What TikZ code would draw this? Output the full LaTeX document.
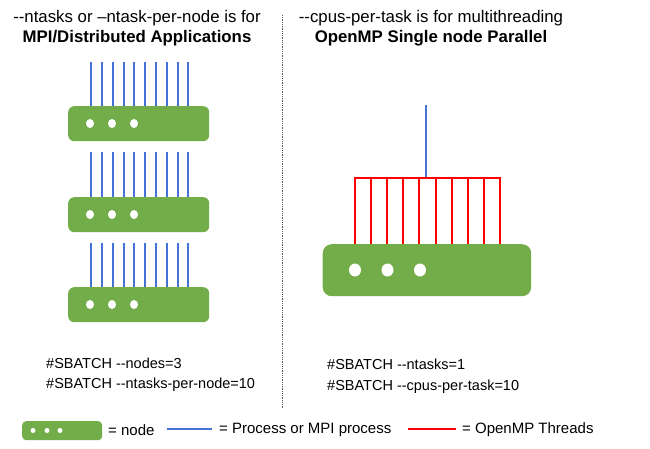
\documentclass[tikz,border=0pt]{standalone}
\usepackage{fontspec}
\setmainfont{Liberation Sans}[Ligatures=NoCommon]
\newcommand{\dd}{-{}-}
\begin{document}
\begin{tikzpicture}[x=1pt,y=-1pt]
\definecolor{ng}{RGB}{114,173,74}
\definecolor{pb}{RGB}{68,114,214}
\tikzset{srv/.style={fill=ng, draw=none, rounded corners=6pt},
  dot/.style={fill=white, draw=none},
  proc/.style={draw=pb, line width=2pt},
  thr/.style={draw=red, line width=2pt},
  pbar/.style={fill=pb, draw=none},
  rbar/.style={fill=red, draw=none},
  txt/.style={font=\fontsize{14.5}{16}\selectfont, anchor=west, inner sep=0pt},
  ttl/.style={font=\fontsize{16.8}{19}\selectfont, inner sep=0pt}}
\useasboundingbox (0,0) rectangle (650,448);
\node[ttl] (t1) at (137,18) {\dd ntasks or –ntask-per-node is for};
\node[ttl,font=\fontsize{16.8}{19}\selectfont\bfseries] (t2) at (137,38) {MPI/Distributed Applications};
\node[ttl] (t3) at (431,18) {\dd cpus-per-task is for multithreading};
\node[ttl,font=\fontsize{16.8}{19}\selectfont\bfseries] (t4) at (431,38) {OpenMP Single node Parallel};
\coordinate (d1) at (282.5,15); \coordinate (d2) at (282.5,408);
\draw[densely dotted, gray!70!black, line width=0.8pt] (d1) -- (d2);
% left servers
\foreach \ltop/\ntop [count=\i] in {62/106, 152/197, 243/287}{
  \foreach \x in {90,101,112,123,133,144,155,166,177,187}{
    \fill[pbar] (\x,\ltop) rectangle (\x+2,\ntop+1);
  }
  \node[srv, minimum width=141pt, minimum height=35pt, anchor=north west] (s\i) at (68,\ntop) {};
  \foreach \x in {90,112,134}{\fill[dot] (\x,\ntop+17.5) ellipse (4pt and 4.5pt);}
}
% right
\fill[pbar] (425,105) rectangle (427,178);
\foreach \x in {354,370,386,402,418,435,451,467,483,499}{
  \fill[rbar] (\x,177) rectangle (\x+2,245);
}
\coordinate (r0) at (354,178); \coordinate (r9) at (501,178);
\draw[thr] (r0) -- (r9);
\node[srv, minimum width=208.5pt, minimum height=52pt, anchor=north west, rounded corners=9pt] (big) at (322.5,244) {};
\foreach \x in {355,387.5,420}{\fill[dot] (\x,270) ellipse (6pt and 6.5pt);}
% texts
\node[txt] (c1) at (46,363) {\#SBATCH \dd nodes=3};
\node[txt] (c2) at (46,385) {\#SBATCH \dd ntasks-per-node=10};
\node[txt] (c3) at (327,364) {\#SBATCH \dd ntasks=1};
\node[txt] (c4) at (327,387) {\#SBATCH \dd cpus-per-task=10};
% legend
\node[srv, minimum width=80pt, minimum height=19pt, anchor=north west, rounded corners=4pt] (lg) at (22,421) {};
\foreach \x in {33,47,60}{\fill[dot] (\x,430.5) circle (2.5pt);}
\node[txt, font=\fontsize{15}{17}\selectfont] (l1) at (108,430) {= node};
\coordinate (lb1) at (167,429); \coordinate (lb2) at (212,429);
\draw[proc] (lb1) -- (lb2);
\node[txt, font=\fontsize{15}{17}\selectfont] (l2) at (219,430) {= Process or MPI process};
\coordinate (lr1) at (408,429); \coordinate (lr2) at (456,429);
\draw[thr] (lr1) -- (lr2);
\node[txt, font=\fontsize{15}{17}\selectfont] (l3) at (462,430) {= OpenMP Threads};
\end{tikzpicture}
\end{document}
